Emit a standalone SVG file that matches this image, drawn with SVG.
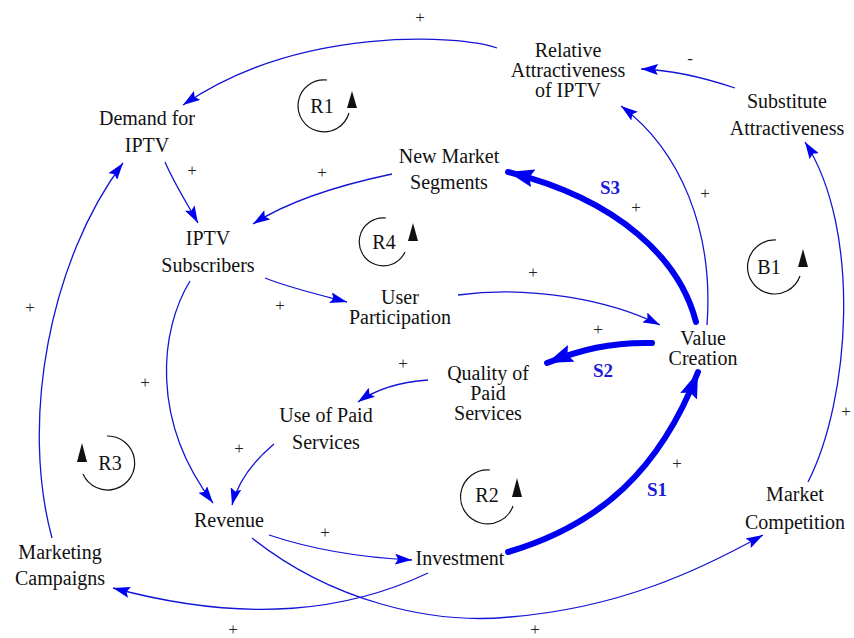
<svg xmlns="http://www.w3.org/2000/svg" width="854" height="638" viewBox="0 0 854 638">
<style>
.cldnode{font-family:Liberation Serif,serif;font-size:20px;fill:#111;text-anchor:middle}
.cldpol{font-family:Liberation Serif,serif;font-size:17px;fill:#222;text-anchor:middle}
.cldstr{font-family:Liberation Serif,serif;font-size:19px;font-weight:bold;fill:#1a1ad8;text-anchor:middle}
.cldlink{fill:none;stroke:#1414d6;stroke-width:1.3}
.cldthick{fill:none;stroke:#0000f0;stroke-width:6;stroke-linecap:round}
.cldloop{fill:none;stroke:#111;stroke-width:1.2}
</style>
<defs>
<marker id="a" viewBox="0 0 17 11" refX="17" refY="5.5" markerWidth="17" markerHeight="11" markerUnits="userSpaceOnUse" orient="auto"><path d="M0,0 L17,5.5 L0,11 L3,5.5 z" fill="#0000f0"/></marker>
<marker id="b" viewBox="0 0 26 18" refX="26" refY="9" markerWidth="26" markerHeight="18" markerUnits="userSpaceOnUse" orient="auto"><path d="M0,0 L26,9 L0,18 L4,9 z" fill="#0000f0"/></marker>
</defs>
<rect width="854" height="638" fill="#fff"/>
<g id="connectors">
<path class="cldlink" d="M497,48 C460,35 300,25 183,105" marker-end="url(#a)"/>
<path class="cldlink" d="M735,88 C705,78 675,70 641,69" marker-end="url(#a)"/>
<path class="cldlink" d="M707,325 C714,230 680,150 621,106" marker-end="url(#a)"/>
<path class="cldlink" d="M808,482 C850,400 862,230 805,142" marker-end="url(#a)"/>
<path class="cldlink" d="M165,162 C175,185 188,205 198,223" marker-end="url(#a)"/>
<path class="cldlink" d="M392,174 C340,185 290,200 253,224" marker-end="url(#a)"/>
<path class="cldlink" d="M265,278 C290,288 320,295 347,302" marker-end="url(#a)"/>
<path class="cldlink" d="M458,295 C530,285 610,300 660,325" marker-end="url(#a)"/>
<path class="cldthick" d="M696,322 C680,260 620,200 508,172" marker-end="url(#b)"/>
<path class="cldthick" d="M652,343 C610,342 580,350 547,363" marker-end="url(#b)"/>
<path class="cldthick" d="M508,552 C600,525 660,470 698,372" marker-end="url(#b)"/>
<path class="cldlink" d="M428,380 C400,382 375,390 358,402" marker-end="url(#a)"/>
<path class="cldlink" d="M274,444 C255,460 238,480 232,505" marker-end="url(#a)"/>
<path class="cldlink" d="M190,281 C160,330 150,420 213,503" marker-end="url(#a)"/>
<path class="cldlink" d="M52,538 C20,420 50,260 123,163" marker-end="url(#a)"/>
<path class="cldlink" d="M269,535 C320,552 370,558 412,560" marker-end="url(#a)"/>
<path class="cldlink" d="M428,573 C350,610 250,625 113,588" marker-end="url(#a)"/>
<path class="cldlink" d="M252,538 C330,600 430,625 510,617 C620,608 700,570 763,535" marker-end="url(#a)"/>
</g>
<g id="polarities">
<text class="cldpol" font-family="Liberation Serif" x="420" y="23">+</text>
<text class="cldpol" font-family="Liberation Serif" x="690" y="64">-</text>
<text class="cldpol" font-family="Liberation Serif" x="705" y="199">+</text>
<text class="cldpol" font-family="Liberation Serif" x="846" y="417">+</text>
<text class="cldpol" font-family="Liberation Serif" x="192" y="176">+</text>
<text class="cldpol" font-family="Liberation Serif" x="322" y="178">+</text>
<text class="cldpol" font-family="Liberation Serif" x="280" y="311">+</text>
<text class="cldpol" font-family="Liberation Serif" x="533" y="278">+</text>
<text class="cldpol" font-family="Liberation Serif" x="636" y="213">+</text>
<text class="cldpol" font-family="Liberation Serif" x="598" y="335">+</text>
<text class="cldpol" font-family="Liberation Serif" x="677" y="469">+</text>
<text class="cldpol" font-family="Liberation Serif" x="403" y="369">+</text>
<text class="cldpol" font-family="Liberation Serif" x="239" y="454">+</text>
<text class="cldpol" font-family="Liberation Serif" x="145" y="388">+</text>
<text class="cldpol" font-family="Liberation Serif" x="30" y="313">+</text>
<text class="cldpol" font-family="Liberation Serif" x="325" y="538">+</text>
<text class="cldpol" font-family="Liberation Serif" x="233" y="635">+</text>
<text class="cldpol" font-family="Liberation Serif" x="535" y="635">+</text>
<text class="cldstr" font-family="Liberation Serif" x="610" y="194">S3</text>
<text class="cldstr" font-family="Liberation Serif" x="603" y="377">S2</text>
<text class="cldstr" font-family="Liberation Serif" x="657" y="496">S1</text>
</g>
<g id="loop-R1">
<path class="cldloop" d="M327,80 A26,26 0 1 0 349,113"/>
<polygon points="352,91 347,108 357,108" fill="#111"/>
<text class="cldnode" font-family="Liberation Serif" x="322" y="113">R1</text>
</g>
<g id="loop-R4">
<path class="cldloop" d="M386,218 A24,24 0 1 0 405,252"/>
<polygon points="413,223 408,241 418,241" fill="#111"/>
<text class="cldnode" font-family="Liberation Serif" x="384" y="249">R4</text>
</g>
<g id="loop-B1">
<path class="cldloop" d="M776,240 A27,27 0 1 0 800,276"/>
<polygon points="803,249 798,267 808,267" fill="#111"/>
<text class="cldnode" font-family="Liberation Serif" x="769" y="274">B1</text>
</g>
<g id="loop-R2">
<path class="cldloop" d="M490,470 A27,27 0 1 0 513,506"/>
<polygon points="517,478 512,497 522,497" fill="#111"/>
<text class="cldnode" font-family="Liberation Serif" x="487" y="502">R2</text>
</g>
<g id="loop-R3">
<path class="cldloop" d="M107,436 A27,27 0 1 1 83,474"/>
<polygon points="82,443 77,462 87,462" fill="#111"/>
<text class="cldnode" font-family="Liberation Serif" x="110" y="470">R3</text>
</g>
<g id="n-relative"><text class="cldnode" font-family="Liberation Serif" x="568" y="57">Relative</text><text class="cldnode" font-family="Liberation Serif" x="568" y="77">Attractiveness</text><text class="cldnode" font-family="Liberation Serif" x="568" y="97">of IPTV</text></g>
<g id="n-substitute"><text class="cldnode" font-family="Liberation Serif" x="787" y="108">Substitute</text><text class="cldnode" font-family="Liberation Serif" x="787" y="135">Attractiveness</text></g>
<g id="n-demand"><text class="cldnode" font-family="Liberation Serif" x="147" y="125">Demand for</text><text class="cldnode" font-family="Liberation Serif" x="147" y="152">IPTV</text></g>
<g id="n-newmarket"><text class="cldnode" font-family="Liberation Serif" x="449" y="163">New Market</text><text class="cldnode" font-family="Liberation Serif" x="449" y="189">Segments</text></g>
<g id="n-subscribers"><text class="cldnode" font-family="Liberation Serif" x="208" y="245">IPTV</text><text class="cldnode" font-family="Liberation Serif" x="208" y="272">Subscribers</text></g>
<g id="n-participation"><text class="cldnode" font-family="Liberation Serif" x="400" y="304">User</text><text class="cldnode" font-family="Liberation Serif" x="400" y="324">Participation</text></g>
<g id="n-value"><text class="cldnode" font-family="Liberation Serif" x="703" y="345">Value</text><text class="cldnode" font-family="Liberation Serif" x="703" y="365">Creation</text></g>
<g id="n-quality"><text class="cldnode" font-family="Liberation Serif" x="488" y="380">Quality of</text><text class="cldnode" font-family="Liberation Serif" x="488" y="400">Paid</text><text class="cldnode" font-family="Liberation Serif" x="488" y="420">Services</text></g>
<g id="n-usepaid"><text class="cldnode" font-family="Liberation Serif" x="326" y="422">Use of Paid</text><text class="cldnode" font-family="Liberation Serif" x="326" y="449">Services</text></g>
<g id="n-revenue"><text class="cldnode" font-family="Liberation Serif" x="229" y="527">Revenue</text></g>
<g id="n-investment"><text class="cldnode" font-family="Liberation Serif" x="460" y="565">Investment</text></g>
<g id="n-marketing"><text class="cldnode" font-family="Liberation Serif" x="60" y="559">Marketing</text><text class="cldnode" font-family="Liberation Serif" x="60" y="585">Campaigns</text></g>
<g id="n-competition"><text class="cldnode" font-family="Liberation Serif" x="795" y="501">Market</text><text class="cldnode" font-family="Liberation Serif" x="795" y="529">Competition</text></g>
</svg>
